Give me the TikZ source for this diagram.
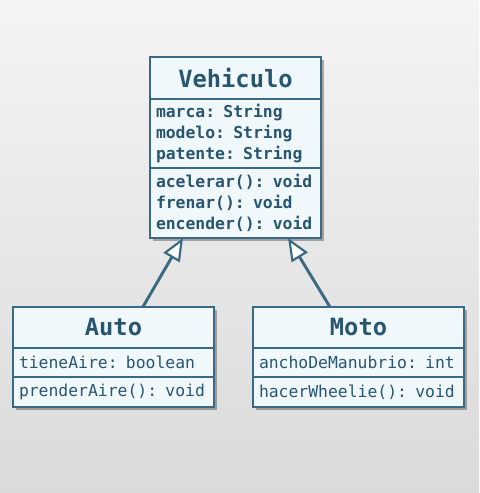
\documentclass[tikz,border=0pt]{standalone}
\usepackage{xcolor}
\usepackage{fontspec}
\usetikzlibrary{shapes,arrows.meta,positioning,fit,backgrounds,shadows}
\newfontfamily\umlfont{DejaVu Sans Mono}

\definecolor{umlline}{HTML}{3A6984}
\definecolor{umltext}{HTML}{285670}
\definecolor{umlfill}{HTML}{F0F8FC}
\definecolor{bgtop}{HTML}{F4F4F4}
\definecolor{bgbottom}{HTML}{DADADA}

\begin{document}
\begin{tikzpicture}[
    x=0.75pt, y=-0.75pt,
    classtitle/.style={rectangle, draw=umlline, line width=1.5pt, fill=umlfill, outer sep=0pt, inner sep=0pt,
        text=umltext, align=center, font=\umlfont\bfseries\fontsize{17.8}{20}\selectfont},
    classbody/.style={rectangle, draw=umlline, line width=1.5pt, fill=umlfill, outer sep=0pt, inner xsep=4.5pt, inner ysep=0pt,
        text=umltext, align=left, font=\umlfont\fontsize{12.3}{15.75}\selectfont},
    shadowbox/.style={fill=umlfill, inner sep=0pt, drop shadow={shadow xshift=2.5pt, shadow yshift=-2.5pt, fill=black, opacity=0.3}},
    inherit/.style={draw=umlline, line width=2.2pt, -{Triangle[open, length=17pt, width=14pt, fill=white, line width=1.6pt]}}
]

\useasboundingbox (0,0) rectangle (479,493);

% Superclass
\node[classtitle, minimum width=128.25pt, minimum height=31.5pt] (veh) at (235.5,78) {Vehiculo};
\node[classbody, below=0pt of veh, text width=119.25pt, minimum height=51.75pt, font=\umlfont\bfseries\fontsize{12.3}{15.75}\selectfont] (vehattr) {marca: String\\modelo: String\\patente: String};
\node[classbody, below=0pt of vehattr, text width=119.25pt, minimum height=52.5pt, font=\umlfont\bfseries\fontsize{12.3}{15.75}\selectfont] (vehops) {acelerar(): void\\frenar(): void\\encender(): void};

% Subclasses
\node[classtitle, minimum width=150.75pt, minimum height=30.75pt] (auto) at (113.5,327.5) {Auto};
\node[classbody, below=0pt of auto, text width=141.75pt, minimum height=21.75pt] (autoattr) {tieneAire: boolean};
\node[classbody, below=0pt of autoattr, text width=141.75pt, minimum height=22.5pt] (autoops) {prenderAire(): void};

\node[classtitle, minimum width=158.25pt, minimum height=30.75pt] (moto) at (358.5,327.5) {Moto};
\node[classbody, below=0pt of moto, text width=149.25pt, minimum height=21.75pt] (motoattr) {anchoDeManubrio: int};
\node[classbody, below=0pt of motoattr, text width=149.25pt, minimum height=22.5pt] (motoops) {hacerWheelie(): void};

% Background and shadows
\begin{scope}[on background layer]
\shade[top color=bgtop, bottom color=bgbottom] (0,0) rectangle (479,493);
\node[shadowbox, fit=(veh)(vehops)] {};
\node[shadowbox, fit=(auto)(autoops)] {};
\node[shadowbox, fit=(moto)(motoops)] {};
\end{scope}

% Inheritance
\draw[inherit] ([xshift=22pt]auto.north) -- ([xshift=-39.4pt]vehops.south);
\draw[inherit] ([xshift=-21.4pt]moto.north) -- ([xshift=39.4pt]vehops.south);

\end{tikzpicture}
\end{document}
